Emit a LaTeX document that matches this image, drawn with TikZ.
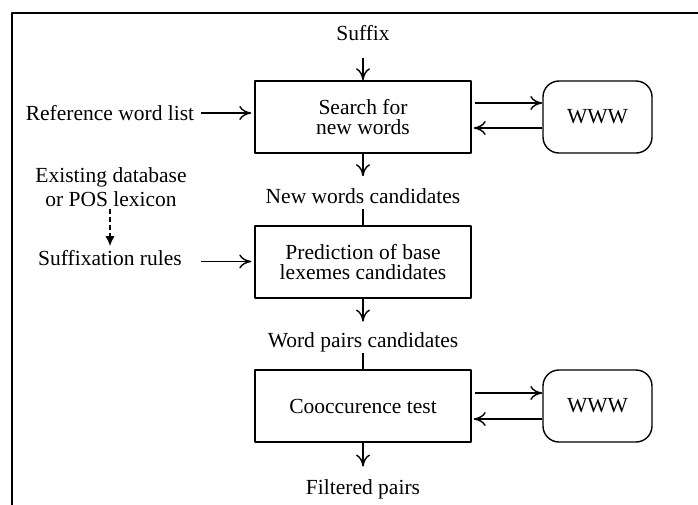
\documentclass[tikz,border=0pt]{standalone}
\usepackage{fontspec}
\setmainfont{Liberation Serif}
\usetikzlibrary{arrows.meta}

\begin{document}
\begin{tikzpicture}[x=1pt,y=1pt,>={Computer Modern Rightarrow[length=12pt,width=14pt]},line join=round,line width=1.4pt,font=\fontsize{21.5}{19.5}\selectfont,
	proc/.style={draw,minimum width=216pt,minimum height=72pt,align=center},
	web/.style={draw,rounded corners=16pt,minimum width=109pt,minimum height=72pt},
	lbl/.style={inner sep=0pt,align=center}]
	\useasboundingbox (0,0) rectangle (698,-504);
	\draw[line width=2pt] (12,-520)--(12,-12.5)--(710,-12.5);
	% main column
	\node[lbl] (suffix) at (363,-33.5) {Suffix};
	\node[proc] (search) at (363,-117) {Search for\\new words};
	\node[lbl] (newwords) at (363,-196.5) {New words candidates};
	\node[proc] (predict) at (363,-262) {Prediction of base\\lexemes candidates};
	\node[lbl] (pairs) at (363,-342) {Word pairs candidates};
	\node[proc] (cooc) at (363,-406) {Cooccurence test};
	\node[lbl] (filtered) at (363,-489) {Filtered pairs};
	% web boxes
	\node[web] (web1) at (597.5,-117) {WWW};
	\node[web] (web2) at (597.5,-406) {WWW};
	% left column
	\node[lbl] (reflist) at (110,-113) {Reference word list};
	\node[lbl] (lexicon) at (111,-187) {Existing database\\[3.5pt]or POS lexicon};
	\node[lbl] (rules) at (110,-258.5) {Suffixation rules};
	% connectors
	\draw[->,shorten <=16.5pt] (suffix)--(search);
	\draw[->,shorten >=12pt] (search)--(newwords);
	\draw[shorten <=4pt] (newwords)--(predict);
	\draw[->,shorten >=10pt] (predict)--(pairs);
	\draw[shorten <=1pt] (pairs)--(cooc);
	\draw[->,shorten >=12pt] (cooc)--(filtered);
	\draw[->,shorten <=6pt,shorten >=3pt] (reflist.east)--(reflist.east-|search.west);
	\draw[->,shorten <=6pt,shorten >=3pt] ([yshift=-3pt]rules.east-|reflist.east)--([yshift=-3pt]rules.east-|predict.west);
	\draw[line width=1.1pt,dash pattern=on 5pt off 3pt,-{Latex[length=10pt,width=9pt]},shorten <=2pt,shorten >=4pt] ([xshift=-1pt]lexicon.south)--([xshift=-1pt]lexicon.south|-rules.north);
	\draw[->,shorten <=3pt] ([yshift=14pt]search.east)--([yshift=14pt]web1.west);
	\draw[->,shorten >=2pt] ([yshift=-11pt]web1.west)--([yshift=-11pt]search.east);
	\draw[->,shorten <=3pt] ([yshift=13pt]cooc.east)--([yshift=13pt]web2.west);
	\draw[->,shorten >=2pt] ([yshift=-13pt]web2.west)--([yshift=-13pt]cooc.east);
\end{tikzpicture}
\end{document}
